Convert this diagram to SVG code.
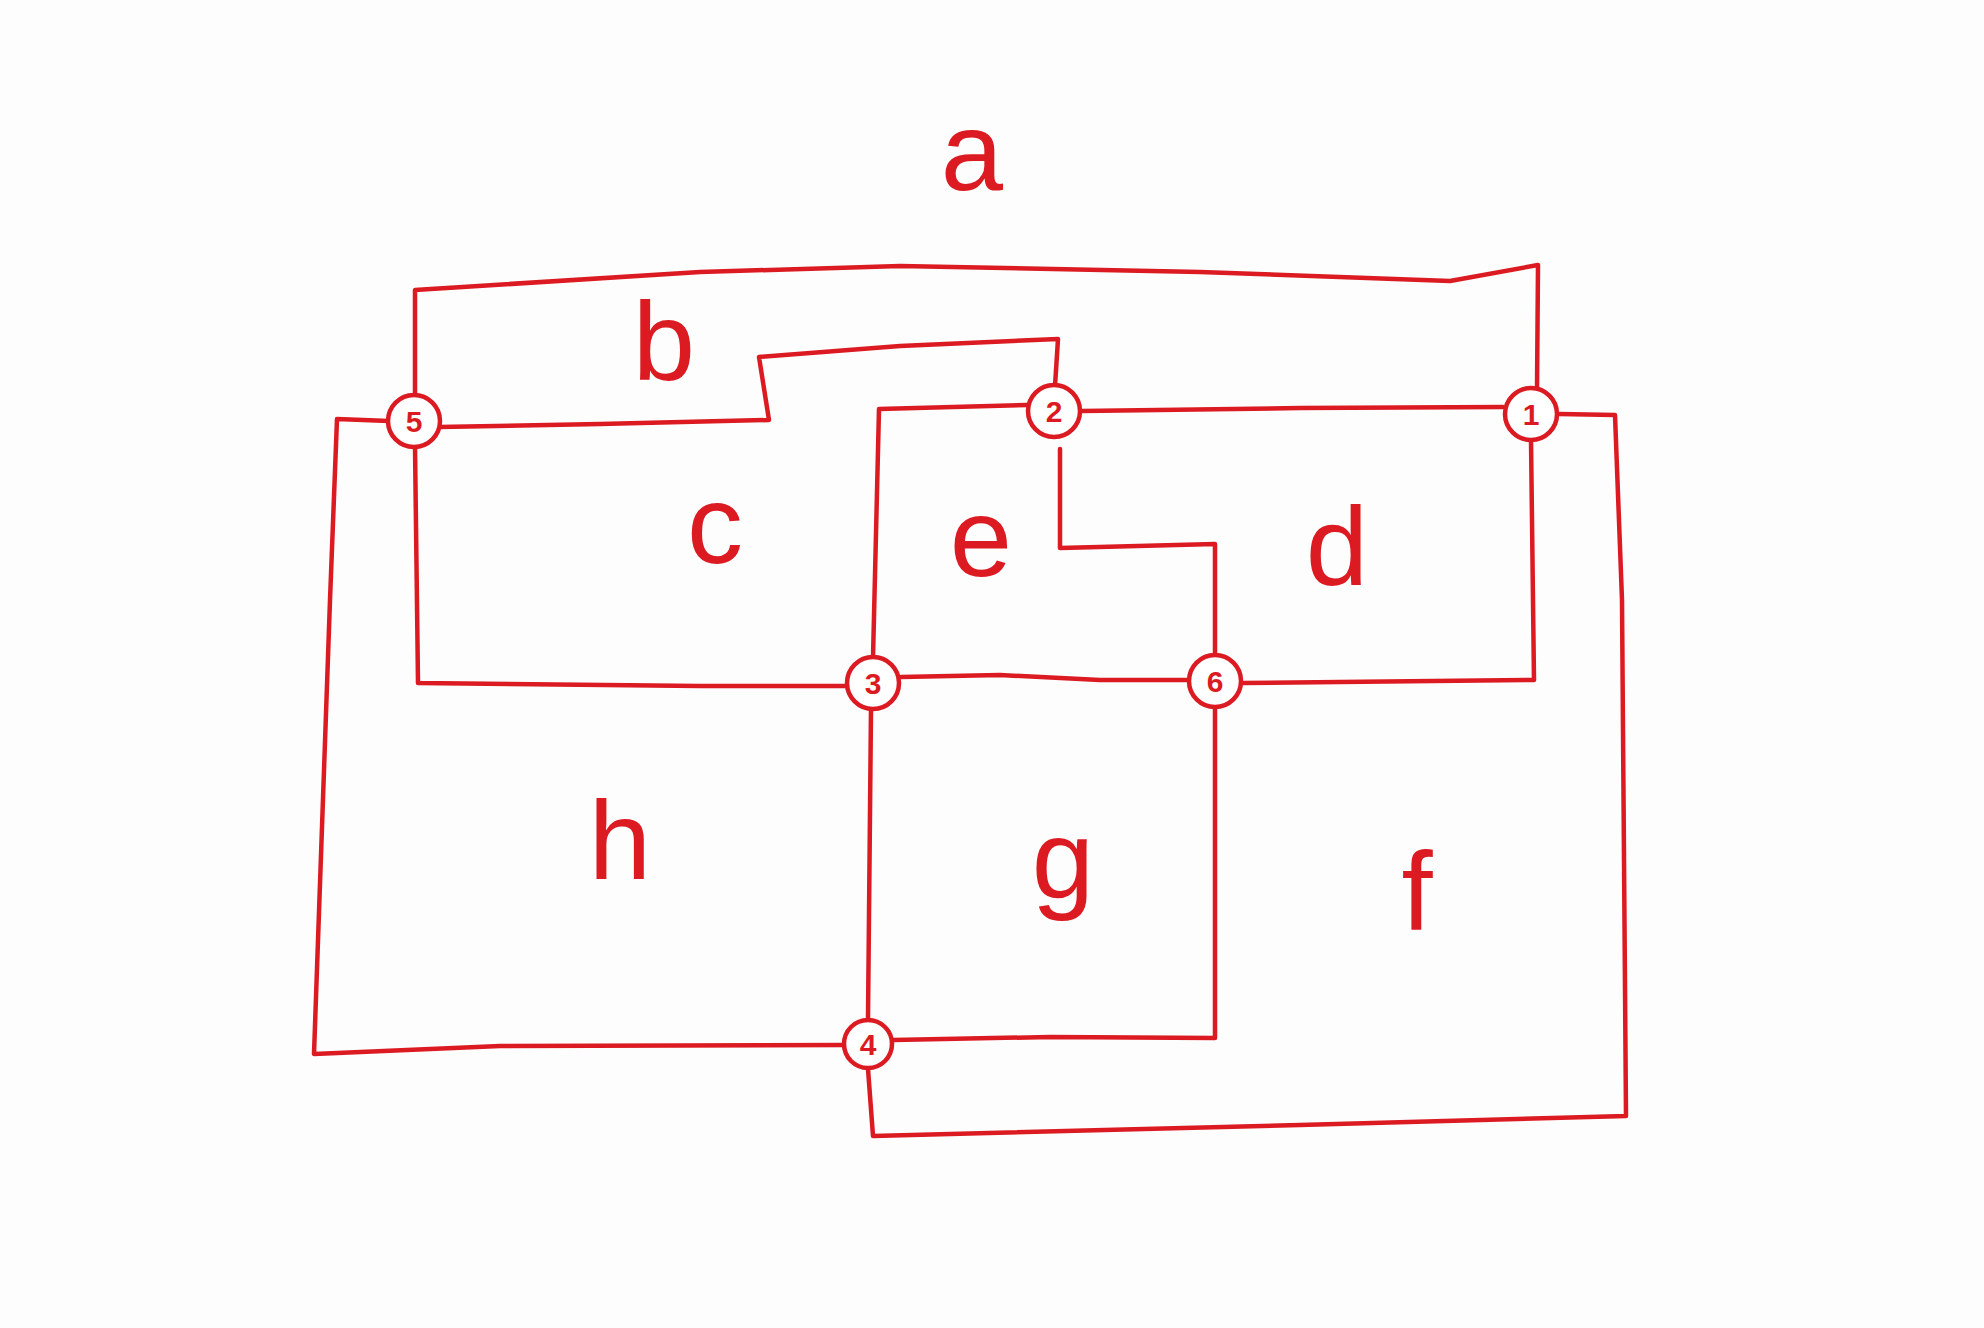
<svg xmlns="http://www.w3.org/2000/svg" width="1984" height="1328" viewBox="0 0 1984 1328">
<style>
.e{fill:none;stroke:#dc1a22;stroke-width:4.5;stroke-linejoin:round;stroke-linecap:round}
.n circle{fill:#fff;stroke:#dc1a22;stroke-width:4.5}
.n text{font-family:"Liberation Sans",Arial,sans-serif;font-size:30px;font-weight:bold;fill:#dc1a22;text-anchor:middle}
.l{font-family:"Liberation Sans",Arial,sans-serif;font-size:112px;fill:#dc1a22;text-anchor:middle}
</style>
<rect width="1984" height="1328" fill="#fdfdfd"/>
<g id="connectors">
<polyline class="e" points="415,396 415,290 700,272 900,266 1200,272 1450,281 1538,265 1537,389"/>
<polyline class="e" points="439,427 600,424 769,420 759,357 900,346 1058,339 1055,386"/>
<polyline class="e" points="415,446 418,683 700,686 848,686"/>
<polyline class="e" points="389,421 337,419 330,600 314,1054 500,1046 843,1045"/>
<polyline class="e" points="1027,405 879,409 873,658"/>
<polyline class="e" points="1082,411 1300,408 1503,407"/>
<polyline class="e" points="1060,449 1060,548 1215,544 1215,655"/>
<polyline class="e" points="901,677 1000,675 1100,680 1187,680"/>
<polyline class="e" points="1243,683 1534,680 1531,440"/>
<polyline class="e" points="1559,414 1615,415 1622,600 1626,1116 1300,1125 873,1136 868,1069"/>
<polyline class="e" points="871,709 868,1019"/>
<polyline class="e" points="893,1040 1050,1037 1215,1038 1215,706"/>
</g>
<g id="node-1" class="n"><circle cx="1531" cy="414" r="26"/><text x="1531" y="425">1</text></g>
<g id="node-2" class="n"><circle cx="1054" cy="411" r="26"/><text x="1054" y="422">2</text></g>
<g id="node-3" class="n"><circle cx="873" cy="683" r="26"/><text x="873" y="694">3</text></g>
<g id="node-4" class="n"><circle cx="868" cy="1044" r="24"/><text x="868" y="1055">4</text></g>
<g id="node-5" class="n"><circle cx="414" cy="421" r="26"/><text x="414" y="432">5</text></g>
<g id="node-6" class="n"><circle cx="1215" cy="681" r="26"/><text x="1215" y="692">6</text></g>
<g id="labels">
<text class="l" x="972" y="190">a</text>
<text class="l" x="664" y="380">b</text>
<text class="l" x="715" y="563">c</text>
<text class="l" x="1337" y="585">d</text>
<text class="l" x="981" y="576">e</text>
<text class="l" x="1417" y="930">f</text>
<text class="l" x="1063" y="898">g</text>
<text class="l" x="620" y="879">h</text>
</g>
</svg>
